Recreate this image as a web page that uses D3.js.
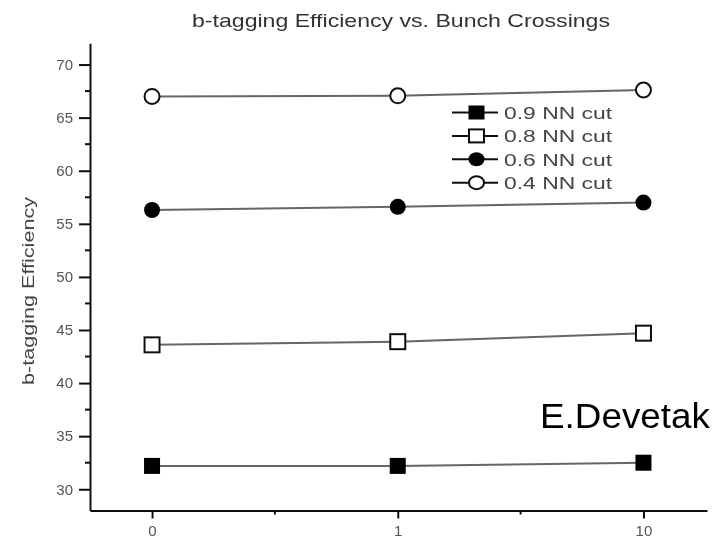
<!DOCTYPE html>
<html>
<head>
<meta charset="utf-8">
<script src="https://cdn.jsdelivr.net/npm/d3@7"></script>
<style>
  body { margin: 0; background: #fff; }
  svg { display: block; }
</style>
</head>
<body>
<script>
// Bunch-crossing categories on the x axis
const crossings = ["0", "1", "10"];

// Series names (legend order)
const cuts = ["0.9 NN cut", "0.8 NN cut", "0.6 NN cut", "0.4 NN cut"];

// b-tagging efficiency (%) per series, one value per crossing category
const eff09 = [32.2, 32.2, 32.5];
const eff08 = [43.6, 43.9, 44.7];
const eff06 = [56.3, 56.6, 57.0];
const eff04 = [67.0, 67.05, 67.6];

// Axis ticks
const yTicks = [30, 35, 40, 45, 50, 55, 60, 65, 70];
const yMinorTicks = [32.5, 37.5, 42.5, 47.5, 52.5, 57.5, 62.5, 67.5];
const xMinorTicks = [0.5, 1.5];

const series = [
  { name: cuts[0], values: eff09, shape: "square", filled: true },
  { name: cuts[1], values: eff08, shape: "square", filled: false },
  { name: cuts[2], values: eff06, shape: "circle", filled: true },
  { name: cuts[3], values: eff04, shape: "circle", filled: false }
];

const W = 723, H = 536;
const FONT = "Liberation Sans, Arial, Helvetica, sans-serif";

const svg = d3.select("body").append("svg")
  .attr("width", W).attr("height", H);

svg.append("defs").append("filter")
  .attr("id", "soft")
  .attr("x", "-5%").attr("y", "-5%").attr("width", "110%").attr("height", "110%")
  .append("feGaussianBlur").attr("stdDeviation", 0.6);

const chart = svg.append("g").attr("filter", "url(#soft)");

const x = d3.scaleLinear().domain([-0.2525, 2.2586]).range([90, 707]);
const y = d3.scaleLinear().domain([28, 72]).range([510.5, 43.3]);

// Title
chart.append("text")
  .attr("x", 192).attr("y", 27)
  .attr("textLength", 418).attr("lengthAdjust", "spacingAndGlyphs")
  .style("font-family", FONT).style("font-size", "19px").style("fill", "#333")
  .text("b-tagging Efficiency vs. Bunch Crossings");

// Y axis
const yAxis = chart.append("g")
  .attr("transform", `translate(${x.range()[0]},0)`)
  .call(d3.axisLeft(y).tickValues(yTicks).tickSize(11).tickPadding(6).tickSizeOuter(0));
yAxis.select(".domain").attr("stroke", "#111").attr("stroke-width", 2);
yAxis.selectAll(".tick line").attr("stroke", "#111").attr("stroke-width", 2);
yAxis.selectAll(".tick text")
  .style("font-family", FONT).style("font-size", "15px").style("fill", "#555");
chart.append("g").selectAll("line").data(yMinorTicks).join("line")
  .attr("x1", x.range()[0] - 5).attr("x2", x.range()[0])
  .attr("y1", d => y(d)).attr("y2", d => y(d))
  .attr("stroke", "#111").attr("stroke-width", 2);

// X axis
const xAxis = chart.append("g")
  .attr("transform", `translate(0,${y.range()[0]})`)
  .call(d3.axisBottom(x).tickValues([0, 1, 2]).tickFormat(i => crossings[i])
    .tickSize(8).tickPadding(7).tickSizeOuter(0));
xAxis.select(".domain").attr("stroke", "#111").attr("stroke-width", 2);
xAxis.selectAll(".tick line").attr("stroke", "#111").attr("stroke-width", 2);
xAxis.selectAll(".tick text")
  .style("font-family", FONT).style("font-size", "15px").style("fill", "#555");
chart.append("g").selectAll("line").data(xMinorTicks).join("line")
  .attr("x1", d => x(d)).attr("x2", d => x(d))
  .attr("y1", y.range()[0]).attr("y2", y.range()[0] + 4)
  .attr("stroke", "#111").attr("stroke-width", 2);

// Y axis title
chart.append("text")
  .attr("transform", `translate(34,291) rotate(-90)`)
  .attr("text-anchor", "middle")
  .attr("textLength", 188).attr("lengthAdjust", "spacingAndGlyphs")
  .style("font-family", FONT).style("font-size", "17px").style("fill", "#444")
  .text("b-tagging Efficiency");

// Marker drawing helper
function drawMarker(g, s, cx, cy, w, h) {
  const fill = s.filled ? "#000" : "#fff";
  if (s.shape === "square") {
    g.append("rect")
      .attr("x", cx - w / 2).attr("y", cy - h / 2)
      .attr("width", w).attr("height", h)
      .attr("fill", fill).attr("stroke", "#111").attr("stroke-width", s.filled ? 0 : 2);
  } else {
    g.append("ellipse")
      .attr("cx", cx).attr("cy", cy).attr("rx", w / 2).attr("ry", h / 2)
      .attr("fill", fill).attr("stroke", "#111").attr("stroke-width", s.filled ? 0 : 2);
  }
}

// Series lines and markers
const line = d3.line().x((d, i) => x(i)).y(d => y(d));
series.forEach(s => {
  const g = chart.append("g");
  g.append("path")
    .attr("d", line(s.values))
    .attr("fill", "none").attr("stroke", "#666").attr("stroke-width", 2);
  s.values.forEach((v, i) => {
    const size = s.filled ? 16 : 15;
    drawMarker(g, s, x(i), y(v), size, size);
  });
});

// Legend
const legend = chart.append("g");
const legendTop = 112.5, legendStep = 23.4;
series.forEach((s, i) => {
  const ly = legendTop + i * legendStep;
  legend.append("line")
    .attr("x1", 452).attr("x2", 498).attr("y1", ly).attr("y2", ly)
    .attr("stroke", "#111").attr("stroke-width", 2);
  drawMarker(legend, s, 476.5, ly, s.filled ? 16 : 15, s.filled ? 14 : 13);
  legend.append("text")
    .attr("x", 504).attr("y", ly + 6.5)
    .attr("textLength", 108).attr("lengthAdjust", "spacingAndGlyphs")
    .style("font-family", FONT).style("font-size", "17px").style("fill", "#444")
    .text(s.name);
});

// Author credit
svg.append("text")
  .attr("x", 540).attr("y", 428)
  .attr("textLength", 170).attr("lengthAdjust", "spacingAndGlyphs")
  .style("font-family", FONT).style("font-size", "35px").style("fill", "#000")
  .text("E.Devetak");
</script>
</body>
</html>
